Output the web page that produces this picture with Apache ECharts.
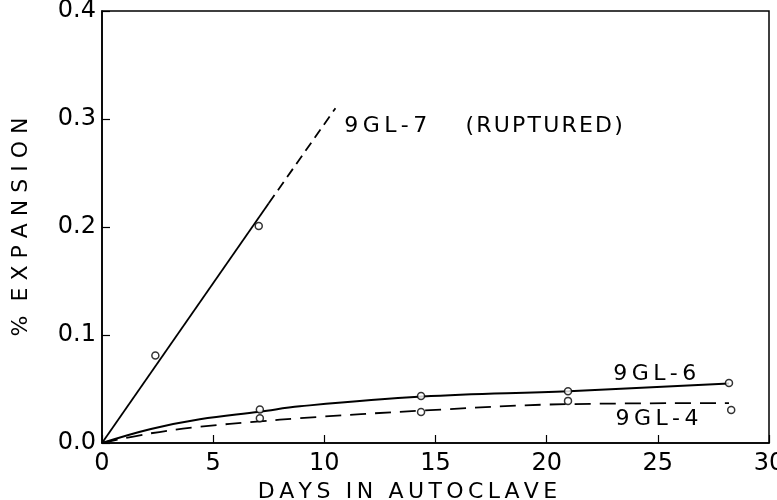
<!DOCTYPE html>
<html>
<head>
<meta charset="utf-8">
<script src="https://cdn.jsdelivr.net/npm/echarts@6/dist/echarts.min.js"></script>
<style>
  html, body { margin: 0; padding: 0; background: #fff; }
  #main { width: 777px; height: 500px; }
</style>
</head>
<body>
<div id="main"></div>
<script>
// 9GL-7 (ruptured) : straight line, solid then dashed
var days7Solid = [0, 7.5];
var exp7Solid = [0, 0.222];
var days7Dash = [7.5, 10.5];
var exp7Dash = [0.222, 0.31];
var days7Pts = [2.4, 7.05];
var exp7Pts = [0.081, 0.201];

// 9GL-6 : solid curve
var days6Curve = [0, 2.2, 4.4, 7.1, 8.9, 14.4, 21, 28.2];
var exp6Curve = [0, 0.013, 0.022, 0.029, 0.034, 0.043, 0.048, 0.055];
var days6Pts = [7.1, 14.35, 20.96, 28.2];
var exp6Pts = [0.031, 0.0435, 0.048, 0.0556];

// 9GL-4 : dashed curve
var days4Curve = [0, 2.2, 4.4, 7.1, 8.9, 14.4, 21, 28.2];
var exp4Curve = [0, 0.009, 0.015, 0.02, 0.023, 0.03, 0.036, 0.037];
var days4Pts = [7.1, 14.35, 20.96, 28.3];
var exp4Pts = [0.023, 0.0287, 0.039, 0.0306];

// curve labels (anchored at data coordinates, left edge / vertical middle)
var labelText = ['9GL-7', '(RUPTURED)', '9GL-6', '9GL-4'];
var labelDays = [10.9, 16.35, 23.0, 23.1];
var labelExp = [0.293, 0.293, 0.064, 0.022];

function pairs(xs, ys) {
  var out = [];
  for (var i = 0; i < xs.length; i++) out.push([xs[i], ys[i]]);
  return out;
}

// spread lettering like the hand-drawn original
function spaced(s, gap) {
  return s.split(' ').map(function (w) { return w.split('').join(gap); }).join('\u2002' + gap);
}

var ink = '#000';
var font = 'DejaVu Sans';

var chart = echarts.init(document.getElementById('main'));

var option = {
  backgroundColor: '#fff',
  animation: false,
  grid: {
    left: 102, right: 8, top: 11, bottom: 57,
    outerBoundsMode: 'none',
    containLabel: false,
    show: true, borderColor: ink, borderWidth: 1.5, backgroundColor: 'transparent'
  },
  xAxis: {
    type: 'value',
    min: 0, max: 30, interval: 5,
    name: spaced('DAYS IN AUTOCLAVE', '\u2009'),
    nameLocation: 'middle',
    nameGap: 32,
    nameTextStyle: { color: ink, fontFamily: font, fontSize: 22, padding: [0, 56, 0, 0] },
    axisLine: { show: true, lineStyle: { color: ink, width: 1.6 } },
    axisTick: { show: true, inside: true, length: 8, lineStyle: { color: ink, width: 1.2 } },
    axisLabel: { color: ink, fontFamily: font, fontSize: 24, margin: 9 },
    splitLine: { show: false }
  },
  yAxis: {
    type: 'value',
    min: 0, max: 0.4, interval: 0.1,
    name: '%  E X P A N S I O N',
    nameLocation: 'middle',
    nameGap: 70,
    nameRotate: 90,
    nameTextStyle: { color: ink, fontFamily: font, fontSize: 22 },
    axisLine: { show: true, lineStyle: { color: ink, width: 1.6 } },
    axisTick: { show: true, inside: true, length: 8, lineStyle: { color: ink, width: 1.2 } },
    axisLabel: {
      color: ink, fontFamily: font, fontSize: 24, margin: 6,
      formatter: function (v) { return v.toFixed(1); }
    },
    splitLine: { show: false }
  },
  series: [
    {
      name: '9GL-7 solid', type: 'line', data: pairs(days7Solid, exp7Solid),
      symbol: 'none', lineStyle: { color: ink, width: 1.8 }
    },
    {
      name: '9GL-7 dashed', type: 'line', data: pairs(days7Dash, exp7Dash),
      symbol: 'none', lineStyle: { color: ink, width: 1.8, type: [10, 6] }
    },
    {
      name: '9GL-6', type: 'line', data: pairs(days6Curve, exp6Curve),
      symbol: 'none', smooth: 0.4, lineStyle: { color: ink, width: 2 }
    },
    {
      name: '9GL-4', type: 'line', data: pairs(days4Curve, exp4Curve),
      symbol: 'none', smooth: 0.4, lineStyle: { color: ink, width: 1.8, type: [16, 9] }
    },
    {
      name: 'points', type: 'scatter',
      data: pairs(days7Pts, exp7Pts).concat(pairs(days6Pts, exp6Pts), pairs(days4Pts, exp4Pts)),
      symbol: 'circle', symbolSize: 7,
      itemStyle: { color: '#fff', borderColor: ink, borderWidth: 1.5 },
      z: 5
    }
  ]
};

chart.setOption(option);

// place the curve labels through the chart's own coordinate system
chart.setOption({
  graphic: labelText.map(function (t, i) {
    var p = chart.convertToPixel({ gridIndex: 0 }, [labelDays[i], labelExp[i]]);
    return {
      type: 'text', x: p[0], y: p[1], z: 10,
      style: {
        text: spaced(t, t.charAt(0) === '(' ? '\u200A' : '\u2009'),
        fill: ink, font: '22px "DejaVu Sans"',
        textAlign: 'left', textVerticalAlign: 'middle'
      }
    };
  })
});
</script>
</body>
</html>
